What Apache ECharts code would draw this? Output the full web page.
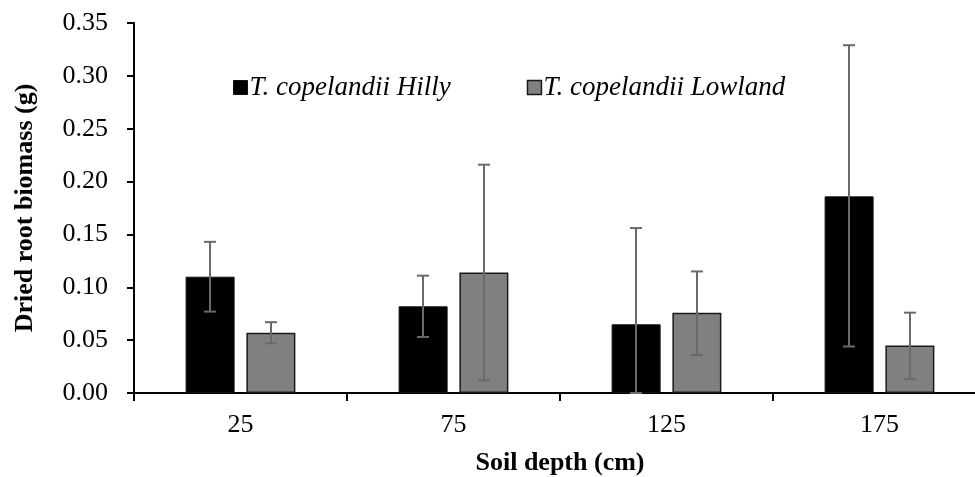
<!DOCTYPE html>
<html>
<head>
<meta charset="utf-8">
<script src="https://cdn.jsdelivr.net/npm/echarts@6/dist/echarts.min.js"></script>
<style>html,body{margin:0;padding:0;background:#fff}#c{width:975px;height:477px}</style>
</head>
<body>
<div id="c"></div>
<script>
var categories = ['25', '75', '125', '175'];
var hilly = [0.110, 0.082, 0.065, 0.186];
var hillyLow = [0.077, 0.053, 0.000, 0.044];
var hillyHigh = [0.143, 0.111, 0.156, 0.329];
var lowland = [0.057, 0.114, 0.076, 0.045];
var lowlandLow = [0.047, 0.012, 0.036, 0.013];
var lowlandHigh = [0.067, 0.216, 0.115, 0.076];
var yTicks = [0, 0.05, 0.10, 0.15, 0.20, 0.25, 0.30, 0.35];

var FONT = 'Liberation Serif';
var FS = 26;
function errData(lo, hi) {
  return lo.map(function (v, i) { return [i, v, hi[i]]; });
}
function errSeries(lo, hi, off) {
  return {
    type: 'custom',
    z: 10,
    silent: true,
    data: errData(lo, hi),
    renderItem: function (params, api) {
      var i = api.value(0);
      var a = api.coord([i, api.value(1)]);
      var b = api.coord([i, api.value(2)]);
      var x = a[0] + off;
      var cap = 6;
      var st = { stroke: '#6a6a6a', lineWidth: 2 };
      return {
        type: 'group',
        children: [
          { type: 'line', shape: { x1: x, y1: a[1], x2: x, y2: b[1] }, style: st },
          { type: 'line', shape: { x1: x - cap, y1: b[1], x2: x + cap, y2: b[1] }, style: st },
          { type: 'line', shape: { x1: x - cap, y1: a[1], x2: x + cap, y2: a[1] }, style: st }
        ]
      };
    }
  };
}

var chart = echarts.init(document.getElementById('c'), null, { renderer: 'canvas' });
chart.setOption({
  animation: false,
  textStyle: { fontFamily: FONT },
  legend: {
    left: 233, top: 74, padding: 0,
    itemWidth: 14, itemHeight: 14, itemGap: 76,
    icon: 'rect',
    textStyle: { fontFamily: FONT, fontStyle: 'italic', fontSize: 27, color: '#000', padding: [0, 0, 0, -3] },
    data: [
      { name: 'T. copelandii Hilly', itemStyle: { color: '#000', borderColor: '#111', borderWidth: 1 } },
      { name: 'T. copelandii Lowland', itemStyle: { color: '#808080', borderColor: '#1a1a1a', borderWidth: 1.5 } }
    ]
  },
  grid: { left: 134, width: 852, top: 23, height: 370, containLabel: false, outerBoundsMode: 'none' },
  xAxis: {
    type: 'category',
    data: categories,
    name: 'Soil depth (cm)',
    nameLocation: 'middle',
    nameGap: 57,
    nameTextStyle: { fontFamily: FONT, fontWeight: 'bold', fontSize: FS, color: '#000' },
    axisLine: { lineStyle: { color: '#000', width: 2 } },
    axisTick: { show: true, length: 8, lineStyle: { color: '#000', width: 2 } },
    axisLabel: { fontFamily: FONT, fontSize: FS, color: '#000', margin: 19 }
  },
  yAxis: {
    type: 'value',
    min: 0, max: 0.35, interval: 0.05,
    name: 'Dried root biomass (g)',
    nameLocation: 'middle',
    nameGap: 96,
    nameTextStyle: { fontFamily: FONT, fontWeight: 'bold', fontSize: FS, color: '#000' },
    splitLine: { show: false },
    axisLine: { show: true, lineStyle: { color: '#000', width: 2 } },
    axisTick: { show: true, length: 7, lineStyle: { color: '#000', width: 2 } },
    axisLabel: {
      fontFamily: FONT, fontSize: FS, color: '#000', margin: 26,
      formatter: function (v) { return v.toFixed(2); }
    }
  },
  series: [
    {
      name: 'T. copelandii Hilly', type: 'bar', data: hilly,
      barWidth: 49, barGap: '24%',
      itemStyle: { color: '#000', borderColor: '#111', borderWidth: 1 }
    },
    {
      name: 'T. copelandii Lowland', type: 'bar', data: lowland,
      barWidth: 49, barGap: '24%',
      itemStyle: { color: '#808080', borderColor: '#1a1a1a', borderWidth: 1.5 }
    },
    errSeries(hillyLow, hillyHigh, -30.5),
    errSeries(lowlandLow, lowlandHigh, 30.5)
  ]
});
</script>
</body>
</html>
